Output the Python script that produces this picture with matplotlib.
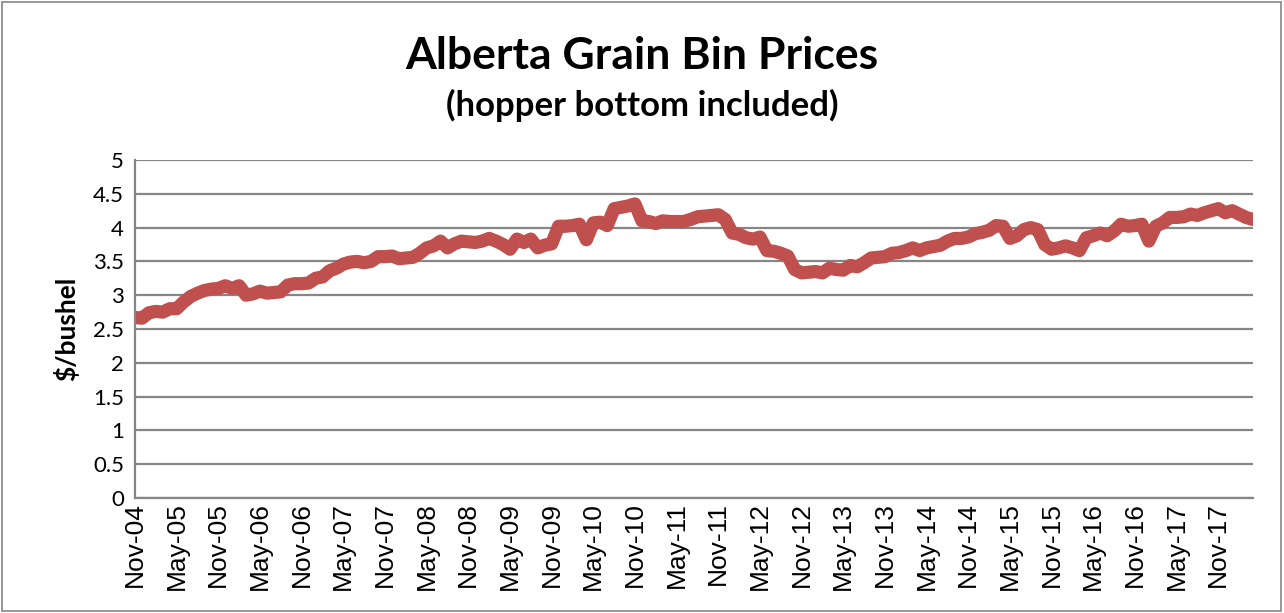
"""
Alberta grain bin prices, monthly, Nov-04 to Apr-18.
"""

import matplotlib
matplotlib.use("Agg")
import matplotlib.pyplot as plt
from matplotlib.patches import Rectangle

# monthly prices ($/bushel), Nov 2004 .. Apr 2018
prices = [
    2.67, 2.66, 2.74, 2.76, 2.75, 2.80,  # Nov-04 .. Apr-05
    2.80, 2.90, 2.98, 3.03, 3.07, 3.09,  # May-05 .. Oct-05
    3.10, 3.14, 3.10, 3.14, 3.00, 3.02,  # Nov-05 ..
    3.06, 3.03, 3.04, 3.05, 3.15, 3.17,  # May-06 ..
    3.17, 3.18, 3.25, 3.27, 3.36, 3.40,  # Nov-06 ..
    3.46, 3.49, 3.50, 3.48, 3.50, 3.57,  # May-07 ..
    3.57, 3.58, 3.54, 3.55, 3.56, 3.62,  # Nov-07 ..
    3.70, 3.73, 3.80, 3.70, 3.76, 3.80,  # May-08 ..
    3.79, 3.78, 3.80, 3.84, 3.80, 3.75,  # Nov-08 ..
    3.68, 3.83, 3.78, 3.83, 3.70, 3.74,  # May-09 ..
    3.76, 4.02, 4.02, 4.03, 4.05, 3.82,  # Nov-09 ..
    4.07, 4.08, 4.03, 4.28, 4.30, 4.32,  # May-10 ..
    4.35, 4.10, 4.09, 4.06, 4.10, 4.09,  # Nov-10 ..
    4.09, 4.09, 4.12, 4.16, 4.17, 4.18,  # May-11 ..
    4.19, 4.12, 3.92, 3.90, 3.85, 3.83,  # Nov-11 ..
    3.86, 3.66, 3.65, 3.62, 3.58, 3.38,  # May-12 ..
    3.33, 3.34, 3.35, 3.33, 3.40, 3.38,  # Nov-12 ..
    3.37, 3.44, 3.42, 3.48, 3.55, 3.56,  # May-13 ..
    3.57, 3.62, 3.63, 3.66, 3.70, 3.66,  # Nov-13 ..
    3.70, 3.72, 3.74, 3.80, 3.84, 3.84,  # May-14 ..
    3.86, 3.91, 3.93, 3.96, 4.03, 4.02,  # Nov-14 ..
    3.84, 3.88, 3.97, 4.00, 3.97, 3.75,  # May-15 ..
    3.68, 3.70, 3.73, 3.70, 3.66, 3.85,  # Nov-15 ..
    3.88, 3.92, 3.88, 3.95, 4.05, 4.02,  # May-16 ..
    4.03, 4.05, 3.80, 4.02, 4.07, 4.15,  # Nov-16 ..
    4.15, 4.16, 4.20, 4.18, 4.22, 4.25,  # May-17 ..
    4.28, 4.22, 4.25, 4.20, 4.15, 4.12,  # Nov-17 .. Apr-18
]

tick_labels = [
    "Nov-04", "May-05", "Nov-05", "May-06", "Nov-06", "May-07", "Nov-07",
    "May-08", "Nov-08", "May-09", "Nov-09", "May-10", "Nov-10", "May-11",
    "Nov-11", "May-12", "Nov-12", "May-13", "Nov-13", "May-14", "Nov-14",
    "May-15", "Nov-15", "May-16", "Nov-16", "May-17", "Nov-17",
]
y_ticks = [0, 0.5, 1, 1.5, 2, 2.5, 3, 3.5, 4, 4.5, 5]

plt.rcParams["font.family"] = ["Lato", "DejaVu Sans"]

fig = plt.figure(figsize=(12.84, 6.13), dpi=100)
ax = fig.add_axes([135 / 1284, 1 - 498 / 613, 1118 / 1284, 338 / 613])

months = list(range(len(prices)))
ax.plot(months, prices, color="#C0504D", linewidth=9.5,
        solid_capstyle="round", solid_joinstyle="round")

ax.set_xlim(0, len(prices) - 1)
ax.set_ylim(0, 5)
ax.set_yticks(y_ticks)
ax.set_yticklabels([f"{t:g}" for t in y_ticks], fontsize=16)
ax.set_xticks(months[::6])
ax.set_xticklabels(tick_labels, rotation=90, fontsize=19,
                   family=["Liberation Sans", "DejaVu Sans"])
ax.tick_params(axis="y", length=0, pad=8)
ax.tick_params(axis="x", length=0, pad=3)

ax.grid(axis="y", color="#868686", linewidth=1.6)
ax.set_axisbelow(True)
for side in ["top", "right"]:
    ax.spines[side].set_visible(False)
for side in ["left", "bottom"]:
    ax.spines[side].set_color("#868686")
    ax.spines[side].set_linewidth(1.6)

ax.set_ylabel("$/bushel", fontsize=19, fontweight="bold", labelpad=10)

fig.text(0.5, 1 - 56 / 613, "Alberta Grain Bin Prices", ha="center", va="center",
         fontsize=32, fontweight="bold")
fig.text(0.5, 1 - 105 / 613, "(hopper bottom included)", ha="center", va="center",
         fontsize=25, fontweight="bold")

fig.patches.append(Rectangle((2 / 1284, 2 / 613), 1279 / 1284, 609 / 613,
                             transform=fig.transFigure, fill=False,
                             edgecolor="#868686", linewidth=1.2))

fig.savefig("out.png", dpi=100)
plt.close(fig)
